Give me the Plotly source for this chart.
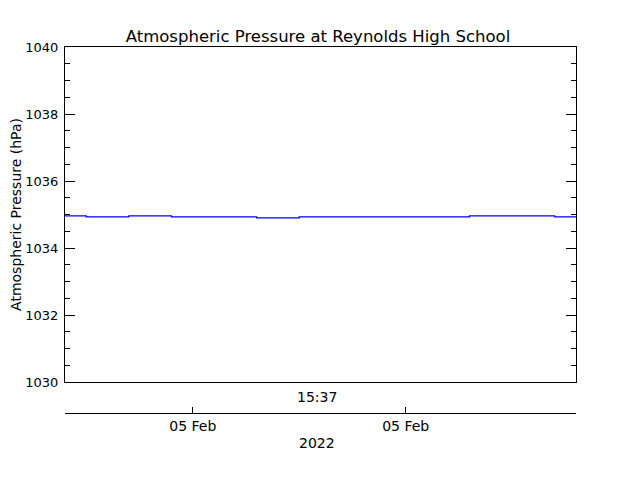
import plotly.graph_objects as go
import pandas as pd

# Data (hourly readings, hPa)
times = pd.date_range("2022-02-05 03:37", periods=13, freq="h")
pressure = [1034.96, 1034.93, 1034.96, 1034.93, 1034.93, 1034.90, 1034.93,
            1034.93, 1034.93, 1034.93, 1034.96, 1034.96, 1034.93]
date_ticks = [pd.Timestamp("2022-02-05 06:37"), pd.Timestamp("2022-02-05 11:37")]
date_tick_labels = ["05 Feb", "05 Feb"]
time_label = "15:37"
year_label = "2022"

FONT = "DejaVu Sans"

fig = go.Figure()
fig.add_trace(go.Scatter(x=times, y=pressure, mode="lines",
                         line=dict(color="#0000ff", width=1.2, shape="hvh"),
                         xaxis="x", yaxis="y", showlegend=False))
# invisible trace for the secondary date axis
fig.add_trace(go.Scatter(x=[times[0], times[-1]], y=[None, None], mode="lines",
                         xaxis="x2", yaxis="y", showlegend=False, hoverinfo="skip"))

xr = [times[0], times[-1]]
dom_bottom = (413 - 382) / 366

fig.update_layout(
    width=640, height=480,
    margin=dict(l=57, r=72, t=39, b=75, autoexpand=False),
    paper_bgcolor="white", plot_bgcolor="white",
    font=dict(family=FONT, size=13, color="black"),
    title=dict(text="Atmospheric Pressure at Reynolds High School",
               x=(318 - 8) / 640, xanchor="center", y=1 - 28 / 480, yanchor="middle",
               font=dict(family=FONT, size=16.5, color="black")),
    xaxis=dict(range=xr, anchor="y", showline=True, linecolor="black", linewidth=1,
               mirror=True, ticks="", showticklabels=False, showgrid=False,
               zeroline=False),
    xaxis2=dict(range=xr, overlaying="x", anchor="free", position=0, side="bottom",
                showline=True, linecolor="black", linewidth=1,
                tickmode="array", tickvals=date_ticks, ticktext=date_tick_labels,
                ticks="inside", ticklen=6, tickcolor="black", showgrid=False,
                zeroline=False, tickfont=dict(family=FONT, size=14)),
    yaxis=dict(range=[1030, 1040], domain=[dom_bottom, 1], dtick=2,
               showline=True, linecolor="black", linewidth=1, mirror="ticks",
               ticks="inside", ticklen=10, tickcolor="black", showgrid=False,
               zeroline=False, tickfont=dict(family=FONT, size=13),
               ticklabelstandoff=3, automargin=False,
               minor=dict(dtick=0.5, ticks="inside", ticklen=5, tickcolor="black",
                          showgrid=False),
               title=dict(text="Atmospheric Pressure (hPa)", standoff=6,
                          font=dict(family=FONT, size=14))),
    annotations=[
        dict(text=time_label, xref="paper", yref="paper", x=0.494, y=(413 - 397) / 366,
             xanchor="center", yanchor="middle", showarrow=False,
             font=dict(family=FONT, size=14)),
        dict(text=year_label, xref="paper", yref="paper", x=0.494, y=(413 - 443) / 366,
             xanchor="center", yanchor="middle", showarrow=False,
             font=dict(family=FONT, size=14)),
    ],
)

fig.write_html("out.html")
